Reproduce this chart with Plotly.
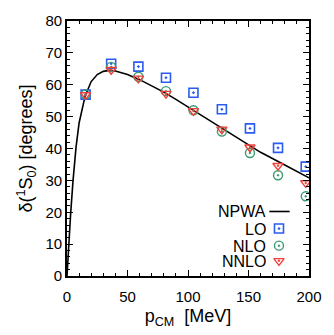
import plotly.graph_objects as go

# NPWA curve
npwa_p = [0, 0.5, 1, 2, 3, 5, 7.5, 10, 15, 20, 25, 30, 35, 40, 50, 60, 70, 80, 90, 100, 120, 140, 160, 180, 200]
npwa_d = [0, 3.5, 7, 13.5, 19.5, 30, 40.5, 48, 56.5, 61, 63.2, 64.2, 64.5, 64.3, 63.2, 61.6, 59.7, 57.7, 55.4, 53, 48.2, 43.5, 38.8, 34.8, 30.8]

p_pts = [15.4, 36.5, 59, 81.8, 104.5, 128, 151.2, 174.4, 197.3]
lo = [56.9, 66.6, 65.7, 62.2, 57.5, 52.3, 46.3, 40.2, 34.3]
nlo = [57.0, 65.6, 62.5, 58.0, 52.0, 45.3, 38.6, 31.6, 25.0]
nnlo = [56.8, 64.7, 62.0, 57.2, 51.8, 46.0, 40.4, 34.6, 29.2]

names = ["NPWA", "LO", "NLO", "NNLO"]
BLUE = "#2a5cf0"
GREEN = "#3a9a70"
RED = "#f0403a"

fig = go.Figure()
fig.add_trace(go.Scatter(x=npwa_p, y=npwa_d, mode="lines", line=dict(color="black", width=1.6),
                         showlegend=False))
fig.add_trace(go.Scatter(x=p_pts, y=lo, mode="markers", showlegend=False,
                         marker=dict(symbol="square-open-dot", size=9, color=BLUE, line=dict(width=1.6))))
fig.add_trace(go.Scatter(x=p_pts, y=nlo, mode="markers", showlegend=False,
                         marker=dict(symbol="circle-open-dot", size=9, color=GREEN, line=dict(width=1.4))))
fig.add_trace(go.Scatter(x=p_pts, y=nnlo, mode="markers", showlegend=False,
                         marker=dict(symbol="triangle-down-open-dot", size=9, color=RED, line=dict(width=1.4))))

# manual legend (text right-aligned, key on the right), on an overlay axis in [0,1]
leg_y = [0.253, 0.186, 0.119, 0.0595]
key_x = 0.876
fig.add_trace(go.Scatter(x=[0.836, 0.92], y=[leg_y[0]] * 2, mode="lines", xaxis="x2", yaxis="y2",
                         line=dict(color="black", width=1.6), showlegend=False, hoverinfo="skip"))
for yy, sym, col, lw in [(leg_y[1], "square-open-dot", BLUE, 1.6),
                         (leg_y[2], "circle-open-dot", GREEN, 1.4),
                         (leg_y[3], "triangle-down-open-dot", RED, 1.4)]:
    fig.add_trace(go.Scatter(x=[key_x], y=[yy], mode="markers", xaxis="x2", yaxis="y2",
                             marker=dict(symbol=sym, size=9, color=col, line=dict(width=lw)),
                             showlegend=False, hoverinfo="skip"))
for yy, nm in zip(leg_y, names):
    fig.add_annotation(x=0.828, y=yy, xref="paper", yref="paper", text=nm, showarrow=False,
                       xanchor="right", yanchor="middle", height=16, borderpad=0,
                       font=dict(size=16, color="black"))

axis_common = dict(showline=True, linecolor="black", linewidth=1.6, mirror="allticks",
                   ticks="inside", ticklen=6, tickwidth=1.2, tickcolor="black",
                   showgrid=False, zeroline=False,
                   tickfont=dict(size=15, color="black"))
fig.update_layout(
    width=334, height=335,
    margin=dict(l=67, r=17, t=15, b=51),
    paper_bgcolor="white", plot_bgcolor="white",
    font=dict(family="Liberation Sans, Arial, sans-serif", color="black"),
    xaxis=dict(range=[0, 200], dtick=50, tick0=0, ticklabelstandoff=6,
               minor=dict(dtick=10, ticks="inside", ticklen=3, tickcolor="black", tickwidth=1),
               title=dict(text="p<sub>CM</sub>  [MeV]", font=dict(size=18), standoff=6),
               **axis_common),
    yaxis=dict(range=[0, 80], dtick=10, tick0=0,
               minor=dict(dtick=2, ticks="inside", ticklen=3, tickcolor="black", tickwidth=1),
               title=dict(text="δ(<sup>1</sup>S<sub>0</sub>) [degrees]", font=dict(size=18), standoff=8),
               **axis_common),
    xaxis2=dict(range=[0, 1], overlaying="x", visible=False, fixedrange=True),
    yaxis2=dict(range=[0, 1], overlaying="y", visible=False, fixedrange=True),
)

fig.write_html("out.html")
